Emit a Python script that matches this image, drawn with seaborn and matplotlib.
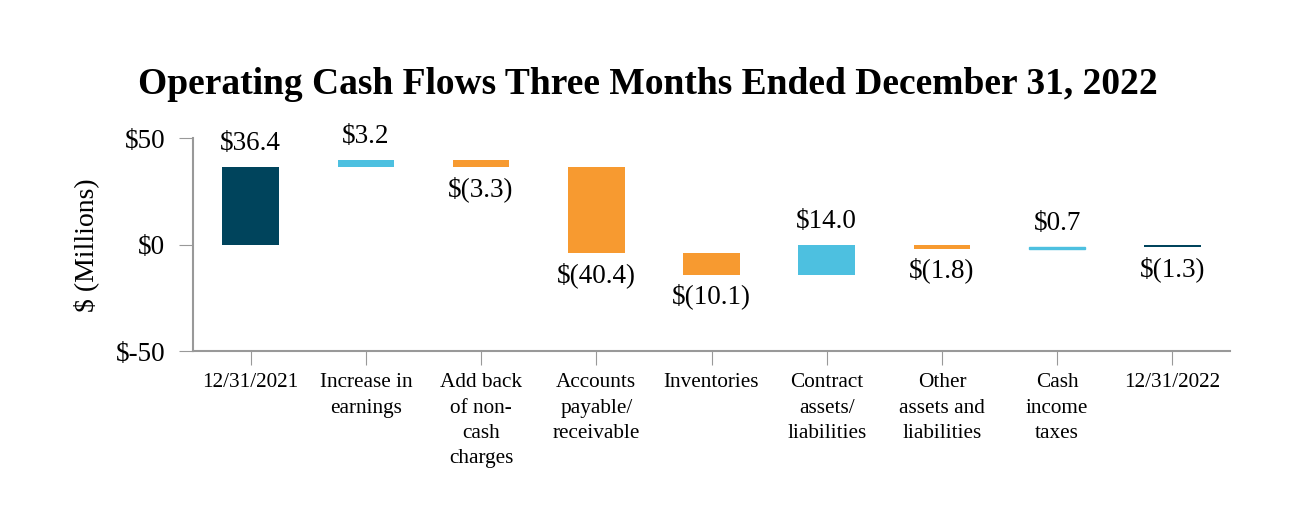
import numpy as np
import pandas as pd
import seaborn as sns
import matplotlib.pyplot as plt

categories = ["12/31/2021", "Increase in\nearnings", "Add back\nof non-\ncash\ncharges",
              "Accounts\npayable/\nreceivable", "Inventories", "Contract\nassets/\nliabilities",
              "Other\nassets and\nliabilities", "Cash\nincome\ntaxes", "12/31/2022"]
changes = [36.4, 3.2, -3.3, -40.4, -10.1, 14.0, -1.8, 0.7, -1.3]
labels = ["$36.4", "$3.2", "$(3.3)", "$(40.4)", "$(10.1)", "$14.0", "$(1.8)", "$0.7", "$(1.3)"]
kinds = ["total", "up", "down", "down", "down", "up", "down", "up", "total"]

palette = {"total": "#00445C", "up": "#4DC0E0", "down": "#F79A30"}

# waterfall bases
bases, heights = [], []
run = 0.0
for v, k in zip(changes, kinds):
    if k == "total":
        bases.append(0.0)
        heights.append(v)
        run = v
    else:
        bases.append(run)
        heights.append(v)
        run += v

df = pd.DataFrame({"category": categories, "height": heights, "base": bases, "kind": kinds})

sns.set_style("white")
plt.rcParams["font.family"] = ["Liberation Serif", "DejaVu Serif"]
plt.rcParams["text.color"] = "black"
plt.rcParams["axes.labelcolor"] = "black"
plt.rcParams["xtick.labelcolor"] = "black"
plt.rcParams["ytick.labelcolor"] = "black"

fig = plt.figure(figsize=(12.96, 5.32), dpi=100)
ax = fig.add_axes([0.149, 0.340, 0.800, 0.400])

bp = sns.barplot(data=df, x="category", y="height", bottom=df["base"].values,
                 width=0.49, color="#00445C", ax=ax, linewidth=0)

for p, k in zip(bp.patches, kinds):
    p.set_facecolor(palette[k])
    # keep tiny steps visible as a thin line
    if abs(p.get_height()) < 1.0:
        p.set_edgecolor(palette[k])
        p.set_linewidth(1.0)

for i, (b, h, lab) in enumerate(zip(bases, heights, labels)):
    top = max(b, b + h)
    bot = min(b, b + h)
    if h >= 0:
        ax.annotate(lab, (i, top), xytext=(0, 8), textcoords="offset points",
                    ha="center", va="bottom", fontsize=19.5)
    else:
        ax.annotate(lab, (i, bot), xytext=(0, -6), textcoords="offset points",
                    ha="center", va="top", fontsize=19.5)

ax.set_ylim(-50, 50)
ax.set_xlim(-0.5, 8.5)
ax.set_yticks([-50, 0, 50])
ax.set_yticklabels(["$-50", "$0", "$50"], fontsize=19.5)
ax.tick_params(axis="x", labelsize=15.3, length=10, color="#999999", pad=6, direction="out")
ax.tick_params(axis="y", length=10, color="#999999", pad=10, direction="out")
ax.tick_params(bottom=True, left=True)
for t in ax.get_xticklabels():
    t.set_linespacing(1.45)
for s in ["top", "right"]:
    ax.spines[s].set_visible(False)
for s in ["left", "bottom"]:
    ax.spines[s].set_color("#999999")
    ax.spines[s].set_linewidth(1.5)

ax.set_xlabel("")
ax.set_ylabel("$ (Millions)", fontsize=20, labelpad=12)
fig.suptitle("Operating Cash Flows Three Months Ended December 31, 2022",
             fontsize=27, fontweight="bold", x=0.5, y=0.875)

fig.savefig("out.png", dpi=100)
